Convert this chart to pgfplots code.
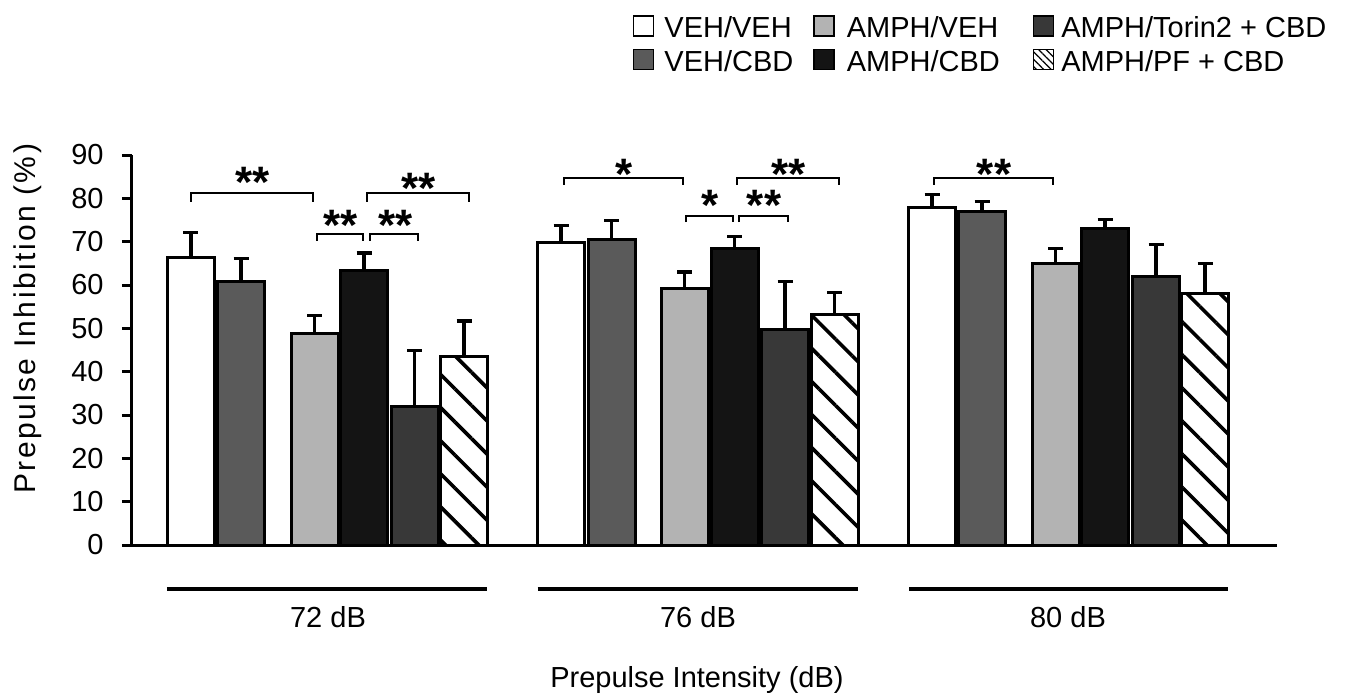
\documentclass[border=0pt]{standalone}
\usepackage{pgfplots}
\pgfplotsset{compat=1.18}
\usetikzlibrary{patterns.meta}
\usepackage{fontspec}
\setmainfont{Liberation Sans}
\newfontfamily\ylabfont{Liberation Sans}[LetterSpace=8]
\definecolor{cVC}{HTML}{5A5A5A}
\definecolor{cAV}{HTML}{B3B3B3}
\definecolor{cAC}{HTML}{141414}
\definecolor{cTC}{HTML}{383838}
\newcommand\brk[4]{\draw[line width=1pt] (axis cs:#1,#4) -- (axis cs:#1,#3) -- (axis cs:#2,#3) -- (axis cs:#2,#4);}
\newcommand\stars[3]{\node[anchor=north, inner sep=0pt, font=\fontsize{22}{22}\selectfont\bfseries] at (axis cs:#1,#2) {#3};}
\pgfplotsset{
 myerr/.style={/pgfplots/error bars/y dir=plus, /pgfplots/error bars/y explicit,
   /pgfplots/error bars/error bar style={line width=1.6pt, black, solid},
   /pgfplots/error bars/error mark options={rotate=90, line width=1.6pt, black, solid, mark size=3.75pt}},
}
\begin{document}
\begin{tikzpicture}
\useasboundingbox (0,0) rectangle (674.5pt,-347.5pt);
\begin{axis}[
 at={(66pt,-272.5pt)}, anchor=south west,
 scale only axis, width=572.5pt, height=195pt,
 xmin=132, xmax=1277, ymin=0, ymax=90,
 axis x line=bottom, axis y line=left,
 axis line style={-, line width=1.5pt, black},
 xtick=\empty,
 ytick={0,10,...,90},
 tick align=outside, major tick length=5pt,
 tick style={line width=1.5pt, black},
 /pgf/number format/assume math mode=true,
 ticklabel style={font=\fontsize{14.5}{16}\selectfont},
 yticklabel style={inner sep=0pt, xshift=-9pt},
 ylabel={Prepulse Inhibition (\%)},
 ylabel style={at={(axis description cs:-0.0908,0.58)}, anchor=center, font=\fontsize{15}{17}\ylabfont},
 xlabel={Prepulse Intensity (dB)},
 xlabel style={at={(axis description cs:0.4934,-0.346)}, anchor=center, font=\fontsize{14.5}{17}\selectfont},
 clip=false,
 ybar, bar width=47,
 mybar/.style={bar shift=0pt, draw=black, line width=1.5pt},
 legend columns=3,
 legend cell align=left,
 legend style={at={(axis description cs:0.4376,1.358)}, anchor=north west, draw=none, fill=none, inner sep=0pt, outer sep=0pt, column sep=0pt, row sep=2.5pt, font=\fontsize{14.5}{17}\selectfont, nodes={inner sep=0pt, text height=10.5pt, text depth=3pt}},
 legend image code/.code={\draw[#1, line width=0.7pt] (0pt,-2.8pt) rectangle (10pt,7.2pt);},
]
% row 1 of legend: VEH/VEH, AMPH/VEH, AMPH/Torin2 + CBD
\addplot[mybar, fill=white, myerr] coordinates {(191,66.4) +- (0,5.8) (561,69.7) +- (0,4.0) (932,77.8) +- (0,3.0)};
\addlegendentry{\makebox[79.5pt][l]{\hspace{5pt}VEH/VEH}}
\addplot[mybar, fill=cAV, myerr] coordinates {(314.5,48.9) +- (0,4.1) (684.5,59.3) +- (0,3.7) (1055.5,64.9) +- (0,3.6)};
\addlegendentry{\makebox[99pt][l]{\hspace{6pt}AMPH/VEH}}
\addplot[mybar, fill=cTC, myerr] coordinates {(414.5,31.9) +- (0,13.0) (785,49.7) +- (0,11.1) (1156,62.0) +- (0,7.3)};
\addlegendentry{\hspace{3.5pt}AMPH/Torin2 + CBD}
% row 2
\addplot[mybar, fill=cVC, myerr] coordinates {(241,60.8) +- (0,5.4) (611.5,70.4) +- (0,4.4) (982,77.0) +- (0,2.3)};
\addlegendentry{\makebox[79.5pt][l]{\hspace{5pt}VEH/CBD}}
\addplot[mybar, fill=cAC, myerr] coordinates {(364,63.3) +- (0,4.1) (734.5,68.5) +- (0,2.7) (1105,73.1) +- (0,2.0)};
\addlegendentry{\makebox[99pt][l]{\hspace{6pt}AMPH/CBD}}
\addplot[mybar, pattern={Lines[angle=-45, distance=11.7pt, line width=1.8pt]}, pattern color=black,
  legend image post style={pattern={Lines[angle=-45, distance=2.6pt, line width=0.6pt]}}, myerr] coordinates {(464,43.5) +- (0,8.2) (834.5,53.1) +- (0,5.2) (1205,58.1) +- (0,6.8)};
\addlegendentry{\hspace{3.5pt}AMPH/PF + CBD}
% significance brackets
\brk{191}{313}{81.2}{79.2}
\brk{317}{363}{71.8}{70.2}
\brk{370}{418}{71.8}{70.2}
\brk{367}{469}{81.2}{79.2}
\brk{564}{683}{84.7}{83.1}
\brk{686}{733}{75.9}{74.5}
\brk{739}{788}{75.9}{74.5}
\brk{737}{839}{84.7}{83.1}
\brk{934}{1053}{84.7}{83.1}
\stars{253}{87.2}{**}
\stars{341}{77.3}{**}
\stars{395.5}{77.3}{**}
\stars{419}{85.8}{**}
\stars{624}{89.2}{*}
\stars{710}{81.9}{*}
\stars{764}{81.9}{**}
\stars{788.7}{89.2}{**}
\stars{994}{89.2}{**}
% group lines and labels
\draw[line width=1.6pt] (axis cs:167,-10.15) -- (axis cs:487,-10.15);
\draw[line width=1.6pt] (axis cs:537.5,-10.15) -- (axis cs:857.5,-10.15);
\draw[line width=1.6pt] (axis cs:909,-10.15) -- (axis cs:1228,-10.15);
\node[font=\fontsize{14.5}{17}\selectfont] at (axis cs:328,-16.6) {72 dB};
\node[font=\fontsize{14.5}{17}\selectfont] at (axis cs:698,-16.6) {76 dB};
\node[font=\fontsize{14.5}{17}\selectfont] at (axis cs:1068,-16.6) {80 dB};
\end{axis}
\end{tikzpicture}
\end{document}
